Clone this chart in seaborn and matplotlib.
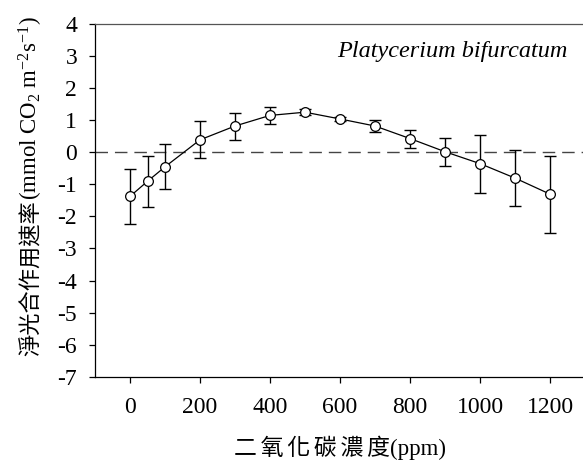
import numpy as np
import pandas as pd
import matplotlib
matplotlib.use("Agg")
import matplotlib.pyplot as plt
import seaborn as sns

# ---- data ----
co2_ppm = [0, 50, 100, 200, 300, 400, 500, 600, 700, 800, 900, 1000, 1100, 1200]
net_rate = [-1.38, -0.91, -0.46, 0.38, 0.81, 1.14, 1.24, 1.03, 0.81, 0.42, 0.01, -0.36, -0.81, -1.31]
err = [0.85, 0.80, 0.70, 0.58, 0.42, 0.26, 0.09, 0.07, 0.20, 0.28, 0.44, 0.90, 0.88, 1.20]
x_ticks = [0, 200, 400, 600, 800, 1000, 1200]
y_ticks = [4, 3, 2, 1, 0, -1, -2, -3, -4, -5, -6, -7]
species = "Platycerium bifurcatum"
xlabel = "二\u2006氧\u2006化\u2006碳\u2006濃\u2006度(ppm)"
ylabel_cjk = "淨光合作用速率"
ylabel_unit = "(mmol CO$_2$ m$^{-2}$s$^{-1}$)"

sns.set_theme(style="ticks")
FAM = ["Liberation Serif", "DejaVu Serif", "Noto Sans CJK TC"]
plt.rcParams["font.family"] = FAM
plt.rcParams["axes.unicode_minus"] = False
plt.rcParams["mathtext.fontset"] = "custom"
plt.rcParams["mathtext.rm"] = "Liberation Serif"
plt.rcParams["mathtext.it"] = "Liberation Serif:italic"
plt.rcParams["mathtext.default"] = "regular"

W, H = 583, 462
fig = plt.figure(figsize=(W / 100, H / 100), dpi=100)
# axes in pixel geometry: left 95, right 585, top 23.5, bottom 377
ax = fig.add_axes([95 / W, (H - 377) / H, 490 / W, (377 - 23.5) / H])

df = pd.DataFrame({"co2": co2_ppm, "rate": net_rate, "err": err})

ax.axhline(0, color="#444444", lw=1.0, ls=(0, (9, 5)), zorder=1)
ax.errorbar(df["co2"], df["rate"], yerr=df["err"], fmt="none", ecolor="black",
            elinewidth=1.0, capsize=4, capthick=1.0, zorder=2)
sns.lineplot(data=df, x="co2", y="rate", ax=ax, color="black", lw=0.9,
             marker="o", markersize=7, markerfacecolor="white",
             markeredgecolor="black", markeredgewidth=0.9, zorder=3)

ax.set_xlim(-100, 1300)
ax.set_ylim(-7, 4)
ax.set_xticks(x_ticks)
ax.set_yticks(y_ticks)
ax.set_xticklabels([str(v) for v in x_ticks])
ax.set_yticklabels([str(v) for v in y_ticks])
ax.tick_params(axis="both", direction="out", length=4.3, width=0.9, color="black",
               labelsize=17, labelcolor="black")
ax.tick_params(axis="x", pad=10)
ax.tick_params(axis="y", pad=8.5)
for t in ax.get_xticklabels() + ax.get_yticklabels():
    t.set_family(FAM)
for s in ["left", "bottom", "top"]:
    ax.spines[s].set_color("black")
    ax.spines[s].set_linewidth(0.9)
ax.spines["top"].set_color("#555555")
ax.spines["right"].set_visible(False)
ax.set_facecolor("white")

ax.set_xlabel(xlabel, fontsize=16.5, family=FAM, labelpad=13, color="black")
ax.set_ylabel("")

ax.text(0.965, 0.92, species, transform=ax.transAxes, ha="right", va="center",
        fontsize=17.5, style="italic", family="Liberation Serif", color="black")

# y label in two pieces (CJK + unit with mathtext), joined at a common baseline
xb, yj = 38 / W, 1 - 200 / H
fig.text(xb, yj, ylabel_cjk, rotation=90, rotation_mode="anchor", ha="right",
         va="baseline", fontsize=16, family=["Noto Sans CJK TC"], color="black")
fig.text(xb, yj, ylabel_unit, rotation=90, rotation_mode="anchor", ha="left",
         va="baseline", fontsize=16.5, family="Liberation Serif", color="black")

fig.savefig("out.png", dpi=100, facecolor="white")
